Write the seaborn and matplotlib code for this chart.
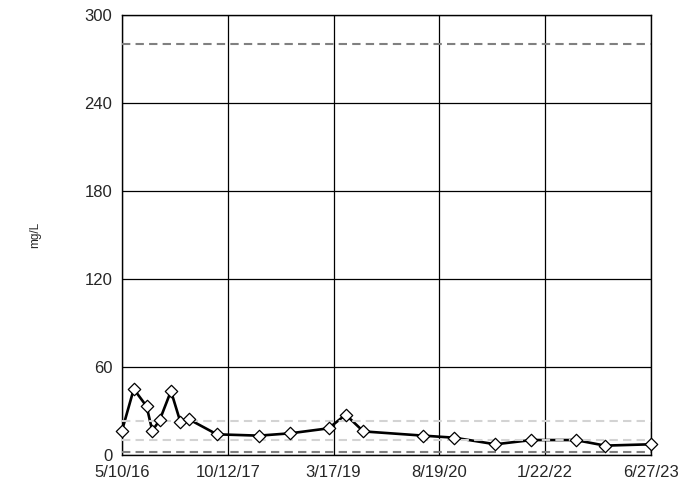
import numpy as np
import pandas as pd
import matplotlib
matplotlib.use("Agg")
import matplotlib.pyplot as plt
import seaborn as sns

# Sample data
sample_dates = ["2016-05-10", "2016-07-07", "2016-09-08", "2016-10-06", "2016-11-11",
                "2017-01-06", "2017-02-21", "2017-04-05", "2017-08-20", "2018-03-16",
                "2018-08-17", "2019-02-21", "2019-05-16", "2019-08-11", "2020-06-01",
                "2020-11-01", "2021-05-22", "2021-11-15", "2022-06-21", "2022-11-13",
                "2023-06-27"]
conc = [16.6, 45.0, 33.2, 16.6, 23.6, 43.6, 22.7, 24.3, 14.1, 13.2,
        14.8, 18.2, 27.5, 16.1, 13.2, 11.8, 7.3, 10.2, 10.2, 6.4, 7.3]

# reference levels
dark_levels = [280, 2]
light_levels = [23.4, 10.2]

x_start, x_end = "2016-05-10", "2023-06-27"
x_labels = ["5/10/16", "10/12/17", "3/17/19", "8/19/20", "1/22/22", "6/27/23"]
y_ticks = [0, 60, 120, 180, 240, 300]

df = pd.DataFrame({"date": pd.to_datetime(sample_dates), "mg/L": conc})

sns.set_style("white")
plt.rcParams["font.family"] = ["Liberation Sans", "DejaVu Sans"]

fig = plt.figure(figsize=(6.81, 4.88), dpi=100)
ax = fig.add_axes([122 / 681, 1 - 455 / 488, 529 / 681, 440 / 488])

# data line under the reference lines, markers on top
sns.lineplot(data=df, x="date", y="mg/L", ax=ax, color="black", lw=1.9, zorder=2)
for v in dark_levels:
    ax.axhline(v, color="#808080", lw=1.5, ls=(0, (4, 2.5)), zorder=3)
for v in light_levels:
    ax.axhline(v, color="#d3d3d3", lw=1.5, ls=(0, (4, 2.5)), zorder=3)
sns.scatterplot(data=df, x="date", y="mg/L", ax=ax, marker="D", s=40,
                facecolor="white", edgecolor="black", linewidth=0.9,
                zorder=5, clip_on=False)

ax.set_xlim(pd.Timestamp(x_start), pd.Timestamp(x_end))
ax.set_ylim(0, 300)
ax.set_xticks(pd.date_range(x_start, x_end, periods=len(x_labels)))
ax.set_xticklabels(x_labels)
ax.set_yticks(y_ticks)

ax.grid(True, color="black", lw=0.9, zorder=1)
ax.set_axisbelow(True)
for s in ax.spines.values():
    s.set_color("black")
    s.set_linewidth(1.0)
ax.tick_params(axis="both", direction="out", length=5, width=1, color="black",
               labelsize=12, pad=2)

ax.set_xlabel("")
ax.set_ylabel("mg/L", fontsize=8.5)
ax.yaxis.set_label_coords(-0.152, 0.5)

fig.savefig("out.png", dpi=100)
